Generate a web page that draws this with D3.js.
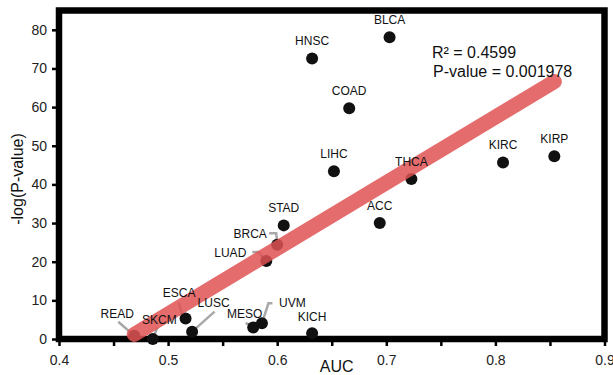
<!DOCTYPE html>
<html>
<head>
<meta charset="utf-8">
<script src="https://cdn.jsdelivr.net/npm/d3@7/dist/d3.min.js"></script>
<style>
  body { margin: 0; background: #fff; }
  text { font-family: "Liberation Sans", Arial, sans-serif; }
</style>
</head>
<body>
<div id="chart"></div>
<script>
// values
const cancers = ["BLCA", "HNSC", "COAD", "LIHC", "THCA", "ACC", "KIRC", "KIRP", "STAD",
                 "BRCA", "LUAD", "ESCA", "LUSC", "SKCM", "READ", "MESO", "UVM", "KICH"];
const auc  = [0.703, 0.632, 0.666, 0.652, 0.723, 0.694, 0.807, 0.854, 0.606,
              0.600, 0.590, 0.516, 0.522, 0.486, 0.469, 0.578, 0.586, 0.632];
const logP = [78.1, 72.6, 59.7, 43.4, 41.4, 30.0, 45.7, 47.3, 29.4,
              24.4, 20.2, 5.3, 1.9, 0.0, 0.85, 3.0, 4.05, 1.5];

// fitted line end points
const fitAuc = [0.469, 0.854];
const fitLogP = [1.2, 66.6];

const xTicks = [0.4, 0.45, 0.5, 0.55, 0.6, 0.65, 0.7, 0.75, 0.8, 0.85, 0.9];
const yTicks = [0, 10, 20, 30, 40, 50, 60, 70, 80];
const rSquared = "0.4599";
const pValue = "0.001978";

// label offsets from the dot (px) and leader lines, default is straight above
const labelPos = {
  BRCA: {dx: -27, dy: -7, lead: [[-8, -11.5], [-1, -11.5], [0, -1]]},
  LUAD: {dx: -36, dy: -4, lead: [[-14, -9], [-8, -9], [-1, -1]]},
  ESCA: {dx: -6.5, dy: -21.5, lead: [[-7, -16], [-3, -3]]},
  LUSC: {dx: 21.5, dy: -25, lead: [[22.5, -20], [0, 0]]},
  READ: {dx: -17, dy: -17.5, lead: [[-16, -14], [0, 0]]},
  SKCM: {dx: 6.5, dy: -15.5, lead: [[4.5, -11.5], [0, 0]]},
  MESO: {dx: -8.5, dy: -9.5, lead: [[-7.5, -4.5], [0, 0]]},
  UVM:  {dx: 30.5, dy: -16.5, lead: [[10.5, -20], [6.5, -20], [0, 0]]},
  KICH: {dx: 0, dy: -12.5}
};

const width = 613, height = 375;

const svg = d3.select("#chart").append("svg")
  .attr("width", width)
  .attr("height", height);

const x = d3.scaleLinear().domain([0.4, 0.9]).range([59, 604.5]);
const y = d3.scaleLinear().domain([0, 85]).range([339, 10.5]);

const points = cancers.map((c, i) => ({name: c, auc: auc[i], p: logP[i]}));

// axes
const xAxis = svg.append("g")
  .attr("transform", "translate(0," + y(0) + ")")
  .call(d3.axisBottom(x).tickValues(xTicks).tickSize(7).tickPadding(9)
    .tickFormat(d => Math.round(d * 100) % 10 === 0 ? d3.format(".1f")(d) : ""));
xAxis.select(".domain").remove();
xAxis.selectAll("line").attr("stroke", "#000").attr("stroke-width", 2.5);
xAxis.selectAll("text").attr("font-size", 14).attr("fill", "#222")
  .style("font-family", "'Liberation Sans', Arial, sans-serif");

const yAxis = svg.append("g")
  .attr("transform", "translate(" + x(0.4) + ",0)")
  .call(d3.axisLeft(y).tickValues(yTicks).tickSize(7).tickPadding(5));
yAxis.select(".domain").remove();
yAxis.selectAll("line").attr("stroke", "#000").attr("stroke-width", 2.5);
yAxis.selectAll("text").attr("font-size", 14).attr("fill", "#222")
  .style("font-family", "'Liberation Sans', Arial, sans-serif");

// frame
svg.append("rect")
  .attr("x", x(0.4))
  .attr("y", y(85))
  .attr("width", x(0.9) - x(0.4))
  .attr("height", y(0) - y(85))
  .attr("fill", "none")
  .attr("stroke", "#000")
  .attr("stroke-width", 6.5);

// leader lines
const line = d3.line();
svg.append("g").selectAll("path")
  .data(points.filter(d => labelPos[d.name] && labelPos[d.name].lead))
  .enter().append("path")
  .attr("d", d => line(labelPos[d.name].lead.map(p => [x(d.auc) + p[0], y(d.p) + p[1]])))
  .attr("fill", "none")
  .attr("stroke", "#a8a8a8")
  .attr("stroke-width", 2.5);

// dots
svg.append("g").selectAll("circle")
  .data(points)
  .enter().append("circle")
  .attr("cx", d => x(d.auc))
  .attr("cy", d => y(d.p))
  .attr("r", 6)
  .attr("fill", "#111");

// regression line
svg.append("line")
  .attr("x1", x(fitAuc[0])).attr("y1", y(fitLogP[0]))
  .attr("x2", x(fitAuc[1])).attr("y2", y(fitLogP[1]))
  .attr("stroke", "rgb(223,82,82)")
  .attr("stroke-opacity", 0.85)
  .attr("stroke-width", 15)
  .attr("stroke-linecap", "round");

// labels
svg.append("g").selectAll("text")
  .data(points)
  .enter().append("text")
  .attr("x", d => x(d.auc) + (labelPos[d.name] ? labelPos[d.name].dx : 0))
  .attr("y", d => y(d.p) + (labelPos[d.name] ? labelPos[d.name].dy : -13.5))
  .attr("text-anchor", "middle")
  .attr("font-size", 12)
  .attr("fill", "#111")
  .text(d => d.name);

// stats
svg.append("text")
  .attr("x", 432).attr("y", 58)
  .attr("font-size", 16).attr("fill", "#111")
  .text("R² = " + rSquared);
svg.append("text")
  .attr("x", 433).attr("y", 77)
  .attr("font-size", 16).attr("fill", "#111")
  .text("P-value = " + pValue);

// axis titles
svg.append("text")
  .attr("x", (x(0.4) + x(0.9)) / 2 + 5)
  .attr("y", 372)
  .attr("text-anchor", "middle")
  .attr("font-size", 16).attr("fill", "#111")
  .text("AUC");
svg.append("text")
  .attr("transform", "translate(23," + 179 + ") rotate(-90)")
  .attr("text-anchor", "middle")
  .attr("font-size", 16).attr("fill", "#111")
  .text("-log(P-value)");
</script>
</body>
</html>
